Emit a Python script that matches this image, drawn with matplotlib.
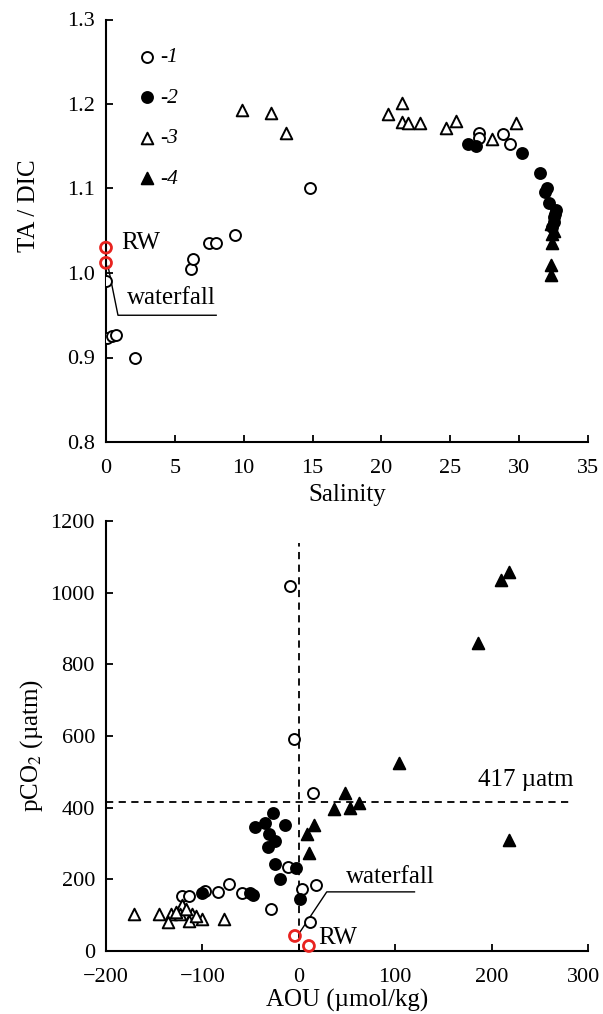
import matplotlib
matplotlib.use("Agg")
import matplotlib.pyplot as plt
import matplotlib.transforms as mtransforms

plt.rcParams['font.family'] = ['Liberation Serif', 'DejaVu Serif']
plt.rcParams['mathtext.fontset'] = 'stix'

# ---------------- Top panel data: Salinity vs TA/DIC ----------------
sal_1 = [0.0, 0.1, 0.4, 0.7, 2.1, 6.2, 6.3, 7.5, 8.0, 9.35, 14.8, 27.1, 27.1, 28.8, 29.3]
ratio_1 = [0.991, 0.923, 0.925, 0.927, 0.900, 1.005, 1.017, 1.036, 1.036, 1.045, 1.101, 1.166, 1.160, 1.165, 1.153]

sal_2 = [26.3, 26.9, 30.2, 31.5, 32.0, 31.9, 32.2, 32.7, 32.5, 32.5, 32.4, 32.6]
ratio_2 = [1.153, 1.150, 1.142, 1.118, 1.100, 1.096, 1.083, 1.075, 1.066, 1.060, 1.054, 1.070]

sal_3 = [9.9, 12.0, 13.1, 20.5, 21.5, 21.5, 21.9, 22.8, 24.7, 25.4, 28.0, 29.8]
ratio_3 = [1.193, 1.189, 1.166, 1.188, 1.201, 1.179, 1.178, 1.178, 1.172, 1.180, 1.159, 1.178]

sal_4 = [32.3, 32.5, 32.4, 32.4, 32.3, 32.3]
ratio_4 = [1.058, 1.050, 1.046, 1.036, 1.009, 0.998]

sal_rw = [0.0, 0.0]
ratio_rw = [1.030, 1.012]

# ---------------- Bottom panel data: AOU vs pCO2 ----------------
aou_1 = [-9, -5, 15, -121, -114, -97, -84, -72, -59, -29, -11, 3, 18, 12]
pco2_1 = [1020, 592, 441, 153, 153, 167, 165, 187, 163, 118, 235, 172, 183, 80]

aou_2 = [-45, -35, -27, -14, -31, -25, -32, -25, -19, -3, 1, -100, -48, -51]
pco2_2 = [346, 357, 385, 352, 327, 307, 290, 243, 200, 232, 146, 162, 155, 161]

aou_3 = [-171, -145, -133, -136, -121, -123, -111, -114, -100, -78, -127, -117, -107]
pco2_3 = [103, 103, 104, 80, 128, 104, 104, 84, 88, 88, 110, 118, 98]

aou_4 = [218, 210, 186, 104, 48, 37, 53, 62, 16, 9, 11, 218]
pco2_4 = [1058, 1035, 860, 525, 441, 396, 399, 413, 352, 327, 273, 310]

aou_rw = [-4, 10.5]
pco2_rw = [42, 14]

atm_pco2 = 417

legend_labels = ['-1', '-2', '-3', '-4']
sal_ticks = [0, 5, 10, 15, 20, 25, 30, 35]
ratio_ticks = [0.8, 0.9, 1.0, 1.1, 1.2, 1.3]
aou_ticks = [-200, -100, 0, 100, 200, 300]
pco2_ticks = [0, 200, 400, 600, 800, 1000, 1200]

RED = '#e8231f'
FS = 16        # tick labels
FG = 15.5      # legend
FA = 18        # annotations
FL = 18        # axis labels
ms_c = 62
ms_t = 70
mew = 1.4

fig = plt.figure(figsize=(6.03, 10.14), dpi=100)
W, H = 603, 1014
ax1 = fig.add_axes([106 / W, 1 - 442 / H, 482 / W, (442 - 19.5) / H])
ax2 = fig.add_axes([106 / W, 1 - 951 / H, 482 / W, (951 - 521) / H])


def style(ax):
    for s in ['top', 'right']:
        ax.spines[s].set_visible(False)
    for s in ['left', 'bottom']:
        ax.spines[s].set_linewidth(1.5)
    ax.tick_params(direction='in', length=5, width=1.3, labelsize=FS)
    ax.tick_params(axis='x', pad=12)
    ax.tick_params(axis='y', pad=8)


def draw_series(ax, series):
    (x1, y1), (x2, y2), (x3, y3), (x4, y4) = series
    ax.scatter(x1, y1, s=ms_c, facecolors='white', edgecolors='black', linewidths=mew, zorder=3, label=legend_labels[0])
    ax.scatter(x2, y2, s=ms_c, facecolors='black', edgecolors='black', linewidths=mew, zorder=3, label=legend_labels[1])
    ax.scatter(x3, y3, s=ms_t, marker='^', facecolors='white', edgecolors='black', linewidths=mew, zorder=3, label=legend_labels[2])
    ax.scatter(x4, y4, s=ms_t, marker='^', facecolors='black', edgecolors='black', linewidths=mew, zorder=3, label=legend_labels[3])


# ---- top panel ----
style(ax1)
draw_series(ax1, [(sal_1, ratio_1), (sal_2, ratio_2), (sal_3, ratio_3), (sal_4, ratio_4)])
ax1.scatter(sal_rw, ratio_rw, s=ms_c, facecolors='none', edgecolors=RED, linewidths=2.0, zorder=4, clip_on=False)
ax1.set_xlim(0, 35)
ax1.set_ylim(0.8, 1.3)
ax1.set_xticks(sal_ticks)
ax1.set_yticks(ratio_ticks)
ax1.set_yticklabels([f'{v:.1f}' for v in ratio_ticks])
ax1.set_xlabel('Salinity', fontsize=FL)
ax1.set_ylabel('TA / DIC', fontsize=FL)
ax1.xaxis.set_label_coords(0.5, -0.1)
ax1.yaxis.set_label_coords(-0.137, 0.56)
ax1.text(1.1, 1.035, 'RW', fontsize=FA, va='center', ha='left')
ax1.plot([0.15, 0.87, 8.0], [1.008, 0.95, 0.95], color='black', lw=1.0, zorder=2)
ax1.text(1.5, 0.971, 'waterfall', fontsize=FA, va='center', ha='left')
leg = ax1.legend(loc='upper left', bbox_to_anchor=(0.04, 0.955), frameon=False,
                 handletextpad=0.0, labelspacing=0.95, borderaxespad=0.0,
                 prop={'size': FG, 'style': 'italic', 'family': 'Liberation Serif'}, handlelength=1.2)

# ---- bottom panel ----
style(ax2)
draw_series(ax2, [(aou_1, pco2_1), (aou_2, pco2_2), (aou_3, pco2_3), (aou_4, pco2_4)])
ax2.scatter(aou_rw, pco2_rw, s=ms_c, facecolors='none', edgecolors=RED, linewidths=2.0, zorder=4, clip_on=False)
ax2.set_xlim(-200, 300)
ax2.set_ylim(0, 1200)
ax2.set_xticks(aou_ticks)
ax2.set_yticks(pco2_ticks)
ax2.plot([0, 0], [0, 1140], color='black', lw=1.3, ls=(0, (4, 3)), zorder=1)
ax2.plot([-200, 281], [atm_pco2, atm_pco2], color='black', lw=1.3, ls=(0, (4, 3)), zorder=1)
ax2.text(186, 477, f'{atm_pco2} µatm', fontsize=FA, va='center', ha='left')
ax2.plot([120, 29, 0], [165, 165, 48], color='black', lw=1.0, zorder=2)
ax2.text(49, 206, 'waterfall', fontsize=FA, va='center', ha='left')
ax2.text(20, 36, 'RW', fontsize=FA, va='center', ha='left')
ax2.set_xlabel('AOU (µmol/kg)', fontsize=FL)
ax2.set_ylabel('pCO$_2$ (µatm)', fontsize=FL)
ax2.xaxis.set_label_coords(0.5, -0.088)
ax2.yaxis.set_label_coords(-0.127, 0.479)

# nudge the last x tick label of the bottom panel so it stays inside the figure
shift = mtransforms.ScaledTranslation(-4 / 100, 0, fig.dpi_scale_trans)
last = ax2.get_xticklabels()[-1]
last.set_transform(last.get_transform() + shift)

fig.savefig('out.png', dpi=100)
